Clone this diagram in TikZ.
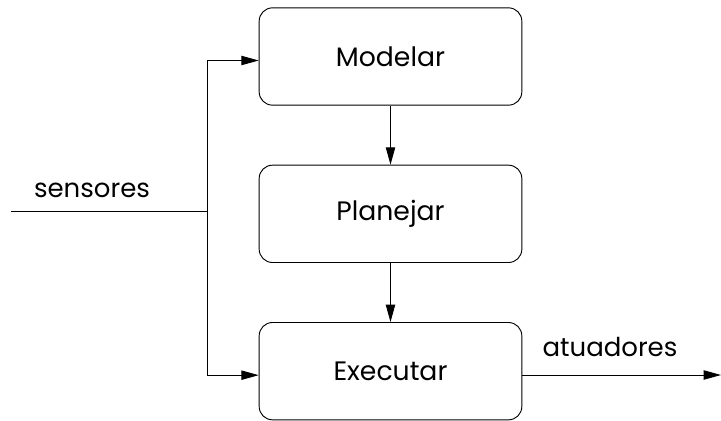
\documentclass[tikz,border=0pt]{standalone}
\usepackage{fontspec}
\setmainfont{Poppins}
\usetikzlibrary{arrows.meta}

\begin{document}
\begin{tikzpicture}[x=0.75pt, y=-0.75pt, >={Triangle[length=13pt,width=7pt]}, node distance=118pt,
    line width=0.7pt,
    lbl/.style={font=\fontsize{19.5}{23}\selectfont},
    block/.style={draw, rounded corners=10pt, minimum width=197pt, minimum height=73pt,
                  font=\fontsize{20}{24}\selectfont}]
  \useasboundingbox (0,0) rectangle (721,421);

  \node[block] (Modelar)                       at (390.5,56.5) {\raisebox{-2pt}{Modelar}};
  \node[block] (Planejar) [below of=Modelar]                   {\raisebox{-2pt}{Planejar}};
  \node[block] (Executar) [below of=Planejar]                  {\raisebox{-2pt}{Executar}};

  \coordinate (in)    at (11,211);
  \coordinate (split) at (207,211);
  \coordinate (out)   at (721,375);

  \node[lbl] (sensores)  at (92,190)  {sensores};
  \node[lbl] (atuadores) at (610,347) {atuadores};

  \path (Modelar.south)  edge [->] (Planejar.north)
        (Planejar.south) edge [->] (Executar.north);
  \draw (in) -- (split);
  \draw[->] (split) |- ([yshift=-3pt]Modelar.west);
  \draw[->] (split) |- ([yshift=-3pt]Executar.west);
  \draw[->] (Executar.east |- out) -- (out);
\end{tikzpicture}
\end{document}
